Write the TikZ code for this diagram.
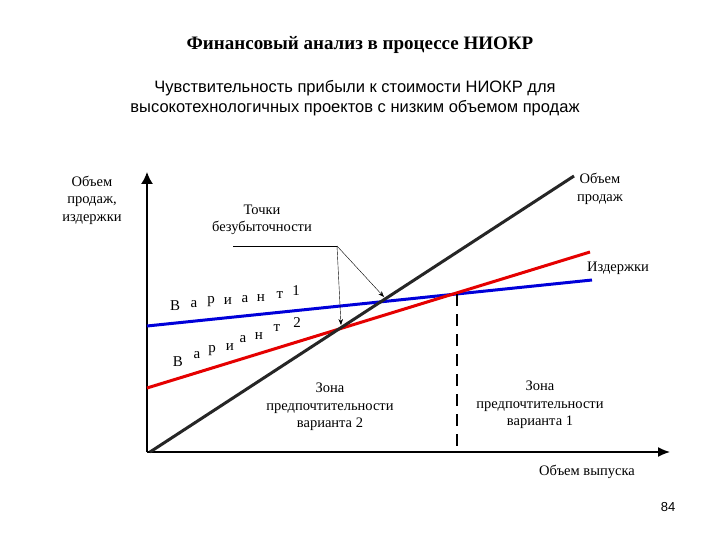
\documentclass[tikz,border=0pt]{standalone}
\usepackage{fontspec}
\usetikzlibrary{arrows.meta}
\setmainfont{Liberation Serif}
\newfontfamily\sans{Liberation Sans}
\begin{document}
\begin{tikzpicture}[x=1pt,y=-1pt,
  lbl/.style={font=\fontsize{14.5}{17.5}\selectfont,align=center,inner sep=0pt},
  let/.style={font=\fontsize{15}{16}\selectfont,inner sep=0pt},
  ln/.style={line width=3pt}]
\useasboundingbox[fill=white] (0,0) rectangle (720,540);
\node[font=\bfseries\fontsize{19}{22}\selectfont] (t) at (360,45) {Финансовый анализ в процессе НИОКР};
\node[font=\sans\fontsize{16.5}{19.5}\selectfont,align=center] (st) at (355,98) {Чувствительность прибыли к стоимости НИОКР для\\высокотехнологичных проектов с низким объемом продаж};
% axes
\coordinate (o) at (147,452);
\coordinate (yt) at (147,172);
\coordinate (xr) at (670,452);
\draw[line width=1.5pt,-{Latex[length=12pt,width=12pt]}] (o) -- (yt);
\draw[line width=1.5pt,-{Latex[length=12pt,width=10pt]}] (o) -- (xr);
% lines
\coordinate (k1) at (150,452); \coordinate (k2) at (574,176);
\coordinate (b1) at (147,326); \coordinate (b2) at (592,280);
\coordinate (r1) at (147,388); \coordinate (r2) at (590,252);
\draw[ln,blue!85!black] (b1) -- (b2);
\draw[ln,red!90!black] (r1) -- (r2);
\draw[ln,black!85] (k1) -- (k2);
\coordinate (d1) at (457,294); \coordinate (d2) at (457,452);
\draw[line width=1.8pt,dash pattern=on 12pt off 8pt] (d1) -- (d2);
% leader
\coordinate (l0) at (233,246); \coordinate (l1) at (337,246);
\coordinate (p1) at (341,325); \coordinate (p2) at (384,297);
\draw[thin] (l0) -- (l1);
\draw[thin,-{Stealth[length=6pt]}] (l1) -- (p1);
\draw[thin,-{Stealth[length=6pt]}] (l1) -- (p2);
% labels
\node[lbl] (ya) at (92,200) {Объем\\продаж,\\издержки};
\node[lbl] (tb) at (262,220) {Точки\\безубыточности};
\node[lbl] (op) at (600,189) {Объем\\продаж};
\node[lbl] (iz) at (618,268) {Издержки};
\node[lbl] (z2) at (330,407) {Зона\\предпочтительности\\варианта 2};
\node[lbl] (z1) at (540,405) {Зона\\предпочтительности\\варианта 1};
\node[lbl] (ov) at (587,472) {Объем выпуска};
\node[font=\sans\fontsize{13}{15}\selectfont] (pg) at (668,507) {84};
% Вариант 1
\node[let] (a1) at (175,306) {В}; \node[let] (a2) at (194,304) {а};
\node[let] (a3) at (211,302) {р}; \node[let] (a4) at (228,301) {и};
\node[let] (a5) at (245,299) {а}; \node[let] (a6) at (261,298) {н};
\node[let] (a7) at (280,295) {т}; \node[let] (a8) at (296,291) {1};
% Вариант 2
\node[let] (c1) at (178,362) {В}; \node[let] (c2) at (197,355) {а};
\node[let] (c3) at (212,351) {р}; \node[let] (c4) at (230,347) {и};
\node[let] (c5) at (243,339) {а}; \node[let] (c6) at (259,336) {н};
\node[let] (c7) at (277,328) {т}; \node[let] (c8) at (297,323) {2};
\end{tikzpicture}
\end{document}
